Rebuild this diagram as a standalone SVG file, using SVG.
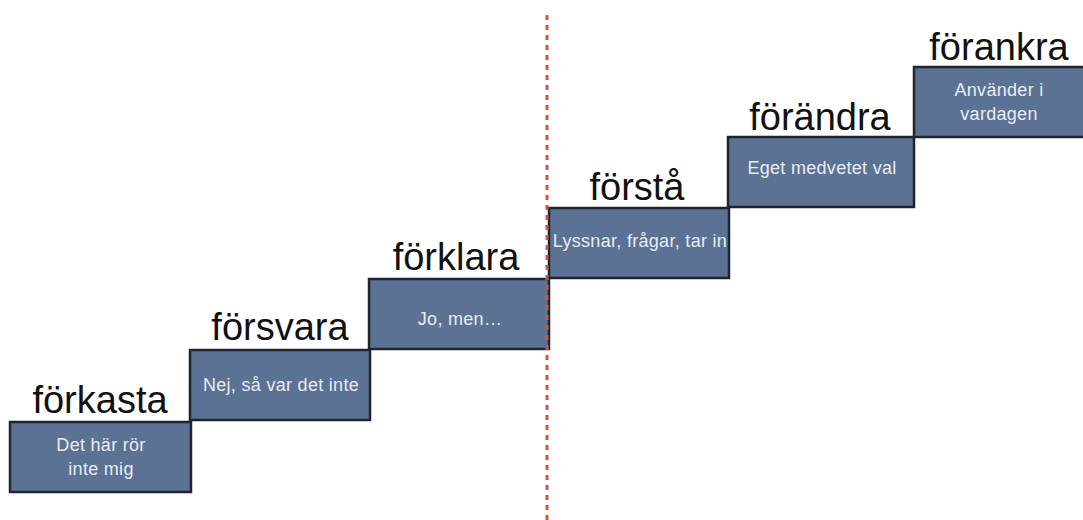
<svg xmlns="http://www.w3.org/2000/svg" width="1083" height="520" viewBox="0 0 1083 520">
<style>
.box{fill:#5b7294;stroke:#1e252e;stroke-width:2.5}
.lbl{font-family:"Liberation Sans",Arial,sans-serif;font-size:38px;fill:#111;text-anchor:middle}
.txt{font-family:"Liberation Sans",Arial,sans-serif;font-size:18px;fill:#e8ecf2;text-anchor:middle;letter-spacing:0.3px}
.divider{stroke:#d4553f;stroke-width:3;stroke-dasharray:5 5;fill:none}
</style>
<rect width="1083" height="520" fill="#ffffff"/>
<g id="step-forkasta">
<rect class="box" x="10" y="422" width="181" height="70"/>
<text class="lbl" x="100" y="413">förkasta</text>
<text class="txt" x="101" y="451">Det här rör</text>
<text class="txt" x="101" y="475">inte mig</text>
</g>
<g id="step-forsvara">
<rect class="box" x="190" y="350" width="180" height="70"/>
<text class="lbl" x="280" y="340">försvara</text>
<text class="txt" x="281" y="391">Nej, så var det inte</text>
</g>
<g id="step-forklara">
<rect class="box" x="369" y="279" width="180" height="70"/>
<text class="lbl" x="456" y="270">förklara</text>
<text class="txt" x="460" y="325">Jo, men…</text>
</g>
<g id="step-forsta">
<rect class="box" x="549" y="208" width="180" height="70"/>
<text class="lbl" x="637" y="200">förstå</text>
<text class="txt" x="640" y="247">Lyssnar, frågar, tar in</text>
</g>
<g id="step-forandra">
<rect class="box" x="728" y="137" width="186" height="70"/>
<text class="lbl" x="820" y="130">förändra</text>
<text class="txt" x="822" y="174">Eget medvetet val</text>
</g>
<g id="step-forankra">
<rect class="box" x="914" y="67" width="172" height="70"/>
<text class="lbl" x="999" y="60">förankra</text>
<text class="txt" x="999" y="96">Använder i</text>
<text class="txt" x="999" y="120">vardagen</text>
</g>
<g id="connectors">
<line class="divider" x1="547" y1="15" x2="547" y2="520"/>
</g>
</svg>
